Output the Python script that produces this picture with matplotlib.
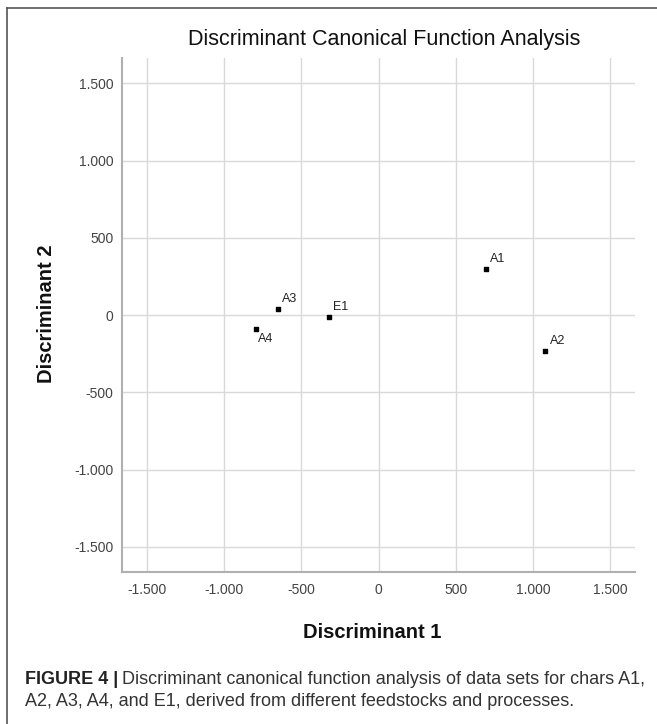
import matplotlib
matplotlib.use("Agg")
import matplotlib.pyplot as plt
from matplotlib.lines import Line2D
from matplotlib.ticker import FuncFormatter, MultipleLocator

plt.rcParams['font.family'] = ['Liberation Sans', 'DejaVu Sans']

# Datos
grupos = ['A1', 'A2', 'A3', 'A4', 'E1']
disc1 = [695, 1080, -651, -796, -323]
disc2 = [298, -235, 41, -89, -13]

W, H = 657, 724
fig = plt.figure(figsize=(W / 100, H / 100), dpi=100)
ax = fig.add_axes([122 / W, 1 - 572 / H, (635 - 122) / W, (572 - 58) / H])

ax.scatter(disc1, disc2, marker='s', s=11, color='black', zorder=3)

# Etiquetas de los puntos (A4 va debajo)
for g, x, y in zip(grupos, disc1, disc2):
    if g == 'A4':
        ax.annotate(g, (x, y), xytext=(2, -3), textcoords='offset points',
                    ha='left', va='top', fontsize=9, color='#222222')
    else:
        ax.annotate(g, (x, y), xytext=(3, 3), textcoords='offset points',
                    ha='left', va='bottom', fontsize=9, color='#222222')

ax.set_xlim(-1660, 1660)
ax.set_ylim(-1663, 1664)
ax.xaxis.set_major_locator(MultipleLocator(500))
ax.yaxis.set_major_locator(MultipleLocator(500))
fmt = FuncFormatter(lambda v, p: f"{v:,.0f}".replace(",", "."))
ax.xaxis.set_major_formatter(fmt)
ax.yaxis.set_major_formatter(fmt)
ax.tick_params(length=0, labelsize=10, labelcolor='#444444')
ax.tick_params(axis='x', pad=8)
ax.tick_params(axis='y', pad=6)

ax.grid(True, color='#d9d9d9', linewidth=1)
ax.set_axisbelow(True)
for s in ['top', 'right']:
    ax.spines[s].set_visible(False)
for s in ['left', 'bottom']:
    ax.spines[s].set_color('#b0b0b0')
    ax.spines[s].set_linewidth(1.5)

fig.text(384 / W, 1 - 40 / H, "Discriminant Canonical Function Analysis",
         ha='center', va='center', fontsize=15.5, color='#111111')
fig.text(372 / W, 1 - 632 / H, "Discriminant 1", ha='center', va='center',
         fontsize=14.5, fontweight='bold', color='#111111')
fig.text(46 / W, 1 - 314 / H, "Discriminant 2", ha='center', va='center',
         rotation=90, fontsize=14.5, fontweight='bold', color='#111111')

# Pie de figura
y1 = 1 - 680 / H
y2 = 1 - 702 / H
negrita = fig.text(25 / W, y1, "FIGURE 4 |", ha='left', va='center',
                   fontsize=13, fontweight='bold', color='#222222')
fig.canvas.draw()
bb = negrita.get_window_extent(renderer=fig.canvas.get_renderer())
fig.text((bb.x1 + 4) / W, y1,
         "Discriminant canonical function analysis of data sets for chars A1,",
         ha='left', va='center', fontsize=13, color='#333333')
fig.text(25 / W, y2,
         "A2, A3, A4, and E1, derived from different feedstocks and processes.",
         ha='left', va='center', fontsize=13, color='#333333')

# Marco
fig.add_artist(Line2D([7 / W, 1], [1 - 8 / H, 1 - 8 / H], color='#555555', linewidth=1.2))
fig.add_artist(Line2D([7 / W, 7 / W], [0, 1 - 8 / H], color='#555555', linewidth=1.2))

fig.savefig("out.png", dpi=100)
